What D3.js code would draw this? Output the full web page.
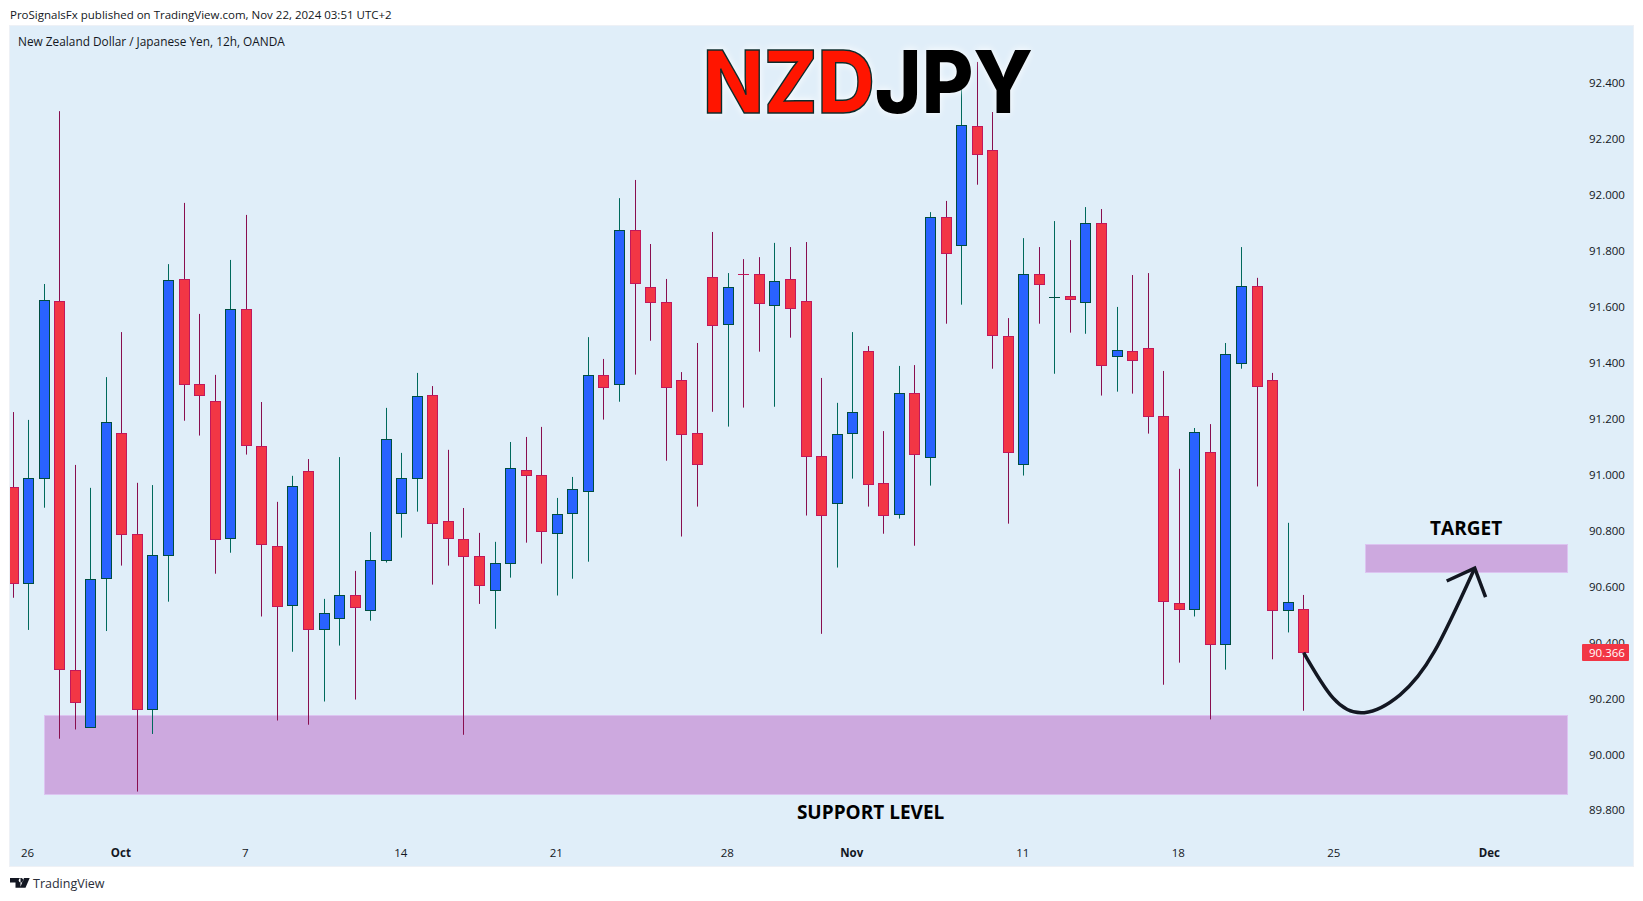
<!DOCTYPE html>
<html>
<head>
<meta charset="utf-8">
<title>NZDJPY</title>
<script src="https://cdnjs.cloudflare.com/ajax/libs/d3/7.8.5/d3.min.js"></script>
<style>
    html, body { margin: 0; padding: 0; background: #fff; }
    svg { display: block; }
    text { font-family: "Open Sans", sans-serif; }
</style>
</head>
<body>
<div id="chart"></div>
<script>
// candle values, one entry per 12h bar
var opens = [90.955,90.612,90.987,91.620,90.301,90.097,90.630,91.148,90.787,90.162,90.712,91.699,91.323,91.263,90.773,91.592,91.102,90.744,90.533,91.012,90.448,90.487,90.569,90.515,90.694,90.862,90.987,91.284,90.834,90.769,90.708,90.587,90.683,91.016,90.998,90.791,90.862,90.941,91.356,91.323,91.874,91.670,91.617,91.338,91.148,91.706,91.538,91.717,91.717,91.606,91.699,91.620,91.066,90.898,91.148,91.441,90.969,90.859,91.291,91.062,91.920,91.820,92.246,92.160,91.495,91.037,91.717,91.637,91.638,91.617,91.899,91.423,91.441,91.452,91.209,90.540,90.519,91.083,90.393,91.398,91.674,91.338,90.515,90.519];
var closes = [90.612,90.987,91.624,90.305,90.187,90.626,91.188,90.786,90.162,90.712,91.695,91.323,91.284,90.769,91.592,91.105,90.750,90.530,90.959,90.448,90.505,90.569,90.526,90.694,91.127,90.987,91.280,90.826,90.773,90.708,90.605,90.683,91.023,90.998,90.798,90.859,90.948,91.356,91.313,91.874,91.684,91.617,91.313,91.145,91.037,91.534,91.670,91.716,91.613,91.692,91.595,91.066,90.855,91.145,91.223,90.966,90.855,91.291,91.073,91.920,91.792,92.249,92.146,91.499,91.080,91.717,91.681,91.638,91.627,91.899,91.391,91.445,91.409,91.209,90.548,90.519,91.152,90.397,91.430,91.674,91.315,90.515,90.544,90.366];
var highs = [91.224,91.196,91.682,92.300,91.035,90.953,91.349,91.510,90.971,90.963,91.753,91.972,91.575,91.357,91.768,91.929,91.260,90.903,90.996,91.056,90.556,91.063,90.656,90.795,91.239,91.078,91.364,91.317,91.089,90.881,90.792,90.760,91.117,91.135,91.171,90.917,90.992,91.492,91.414,91.989,92.054,91.825,91.700,91.367,91.471,91.868,91.721,91.771,91.778,91.829,91.814,91.832,91.346,91.257,91.510,91.460,91.156,91.389,91.392,91.939,91.979,92.440,92.476,92.297,91.560,91.846,91.814,91.907,91.839,91.957,91.950,91.600,91.714,91.721,91.371,91.021,91.167,91.181,91.471,91.814,91.704,91.364,90.828,90.570];
var lows = [90.560,90.445,90.882,90.056,90.089,90.097,90.441,90.675,89.867,90.073,90.546,91.193,91.140,90.646,90.721,91.072,90.493,90.121,90.367,90.106,90.189,90.389,90.196,90.478,90.686,90.775,90.868,90.607,90.675,90.070,90.538,90.449,90.632,90.757,90.682,90.568,90.628,90.689,91.197,91.261,91.358,91.479,91.050,90.779,90.886,91.225,91.172,91.240,91.440,91.243,91.490,90.854,90.431,90.668,90.986,90.886,90.789,90.843,90.746,90.961,91.540,91.608,92.037,91.379,90.825,90.997,91.540,91.361,91.508,91.504,91.283,91.297,91.290,91.147,90.249,90.328,90.493,90.125,90.303,91.379,90.958,90.340,90.436,90.156];

var priceTicks = [89.8,90.0,90.2,90.4,90.6,90.8,91.0,91.2,91.4,91.6,91.8,92.0,92.2,92.4];
var lastPrice = 90.366;

var dateTickIndex = [1,7,15,25,35,46,54,65,75,85,95];
var dateTickLabels = ['26','Oct','7','14','21','28','Nov','11','18','25','Dec'];
var boldLabels = ['Oct','Nov','Dec'];

// drawn zones, in bars and price
var supportZone = {from: 2, to: 99.95, top: 90.140, bottom: 89.858};
var targetZone = {from: 86.95, to: 99.95, top: 90.751, bottom: 90.651};

// hand drawn arrow
var arrowIndex = [83.0,84.9,86.9,89.2,91.4,94.0];
var arrowPrice = [90.364,90.201,90.149,90.213,90.367,90.666];
var arrowHeadIndex = [92.2,94.0,94.7];
var arrowHeadPrice = [90.620,90.666,90.562];

var W = 1643, H = 901;
var pane = {left: 10, top: 26, right: 1633, bottom: 866};
var ink = '#131722';

var x = d3.scaleLinear().domain([0, 83]).range([13, 1303.65]);
var y = d3.scaleLinear().domain([89.8, 92.4]).range([810.3, 83.2]);

var isUp = function(i){return closes[i] >= opens[i];};

var svg = d3.select('#chart').append('svg').attr('width', W).attr('height', H);

svg.append('rect')
    .attr('x', pane.left - 0.5)
    .attr('y', pane.top - 0.5)
    .attr('width', pane.right - pane.left + 1)
    .attr('height', pane.bottom - pane.top + 1)
    .attr('fill', '#e0eef9')
    .attr('stroke', '#eef1f6');

svg.append('clipPath').attr('id', 'paneClip').append('rect')
    .attr('x', pane.left)
    .attr('y', pane.top)
    .attr('width', pane.right - pane.left)
    .attr('height', pane.bottom - pane.top);

var plot = svg.append('g').attr('clip-path', 'url(#paneClip)');

// zones sit under the candles
[supportZone, targetZone].forEach(function(z){
    plot.append('rect')
        .attr('x', Math.round(x(z.from)) + 0.5)
        .attr('y', Math.round(y(z.top)) + 0.5)
        .attr('width', Math.round(x(z.to) - x(z.from)))
        .attr('height', Math.round(y(z.bottom) - y(z.top)))
        .attr('fill', '#cda9df')
        .attr('stroke', '#dcc4f1');
});

var candles = plot.selectAll('g.candle')
    .data(opens)
    .enter()
    .append('g')
    .attr('class', 'candle');

candles.append('line')
    .attr('x1', function(d, i){return Math.floor(x(i)) + 0.5;})
    .attr('x2', function(d, i){return Math.floor(x(i)) + 0.5;})
    .attr('y1', function(d, i){return y(highs[i]);})
    .attr('y2', function(d, i){return y(lows[i]);})
    .attr('stroke', function(d, i){return isUp(i) ? '#00695c' : '#880e4f';});

candles.each(function(d, i){
    var g = d3.select(this);
    var left = Math.floor(x(i)) - 4.5;
    var bodyH = Math.abs(y(d) - y(closes[i]));
    if (bodyH >= 1) {
        g.append('rect')
            .attr('x', left)
            .attr('y', Math.round(y(Math.max(d, closes[i]))) + 0.5)
            .attr('width', 10)
            .attr('height', Math.round(bodyH))
            .attr('fill', isUp(i) ? '#2962ff' : '#f23645')
            .attr('stroke', isUp(i) ? '#004d40' : '#c2185b');
    } else {
        // doji, body is only a dash
        g.append('line')
            .attr('x1', left - 0.5)
            .attr('x2', left + 10.5)
            .attr('y1', Math.round(y(d)) + 0.5)
            .attr('y2', Math.round(y(d)) + 0.5)
            .attr('stroke', isUp(i) ? '#004d40' : '#c2185b');
    }
});

// arrow
var arrowLine = d3.line()
    .x(function(d){return x(d[0]);})
    .y(function(d){return y(d[1]);});

plot.append('path')
    .attr('d', arrowLine.curve(d3.curveNatural)(d3.zip(arrowIndex, arrowPrice)))
    .attr('fill', 'none')
    .attr('stroke', ink)
    .attr('stroke-width', 3.5);

plot.append('path')
    .attr('d', arrowLine.curve(d3.curveLinear)(d3.zip(arrowHeadIndex, arrowHeadPrice)))
    .attr('fill', 'none')
    .attr('stroke', ink)
    .attr('stroke-width', 3.5);

// axes
var yAxis = svg.append('g')
    .attr('transform', 'translate(1589,0)')
    .call(d3.axisRight(y).tickValues(priceTicks).tickSize(0).tickPadding(0).tickFormat(d3.format('.3f')));
yAxis.select('.domain').remove();
yAxis.selectAll('text')
    .style('font-size', '11.5px')
    .style('font-family', '"Open Sans", sans-serif')
    .attr('fill', ink);

var xAxis = svg.append('g')
    .attr('transform', 'translate(-1.5,849)')
    .call(d3.axisBottom(x).tickValues(dateTickIndex).tickSize(0).tickPadding(0).tickFormat(function(d, i){return dateTickLabels[i];}));
xAxis.select('.domain').remove();
xAxis.selectAll('text')
    .style('font-size', '11.5px')
    .style('font-family', '"Open Sans", sans-serif')
    .style('font-weight', function(d, i){return boldLabels.indexOf(dateTickLabels[i]) >= 0 ? 700 : 400;})
    .attr('fill', ink);

// last price tag
svg.append('rect')
    .attr('x', 1582)
    .attr('y', Math.round(y(lastPrice)) - 8)
    .attr('width', 47)
    .attr('height', 17)
    .attr('rx', 1)
    .attr('fill', '#f23645');
svg.append('text')
    .attr('x', 1589)
    .attr('y', y(lastPrice) + 0.5)
    .attr('dy', '0.36em')
    .attr('fill', '#fff')
    .style('font-size', '11.5px')
    .text(d3.format('.3f')(lastPrice));

// annotations
var addLabel = function(text, xPos, yPos, size){
    svg.append('text')
        .attr('x', xPos)
        .attr('y', yPos)
        .attr('text-anchor', 'middle')
        .attr('fill', '#000')
        .style('font-size', size + 'px')
        .style('font-weight', 700)
        .text(text);
};
addLabel('TARGET', x(93.45), y(90.784), 19);
addLabel('SUPPORT LEVEL', x(55.15), y(89.769), 19);

var title = svg.append('text')
    .attr('text-anchor', 'start')
    .style('font-family', 'Inter, sans-serif')
    .style('font-size', '87px')
    .style('font-weight', 800)
    .style('filter', 'drop-shadow(0 0 4px #ffffff)');
title.append('tspan').attr('fill', '#ff1500').attr('stroke', '#0b2b2b').attr('stroke-width', 1.5).text('NZD');
title.append('tspan').attr('fill', '#000').text('JPY');
// squeeze the title to its drawn width
title.attr('transform', 'translate(703,113) scale(' + (330 / title.node().getComputedTextLength()) + ',1)');

// header and footer
svg.append('text')
    .attr('x', 10).attr('y', 19)
    .attr('fill', ink)
    .style('font-size', '11.5px')
    .text('ProSignalsFx published on TradingView.com, Nov 22, 2024 03:51 UTC+2');

svg.append('text')
    .attr('x', 18).attr('y', 46)
    .attr('fill', ink)
    .style('font-size', '11.85px')
    .text('New Zealand Dollar / Japanese Yen, 12h, OANDA');

svg.append('path')
    .attr('d', 'M10 878h10.5v9.7h-5v-5.2h-5.5z M21 878a2.3 2.3 0 1 0 0.01 0z M24 878h5.7l-4.2 9.7h-5.4z')
    .attr('fill', ink);

svg.append('text')
    .attr('x', 33).attr('y', 888)
    .attr('fill', '#2a2e39')
    .style('font-size', '12.5px')
    .text('TradingView');
</script>
</body>
</html>
